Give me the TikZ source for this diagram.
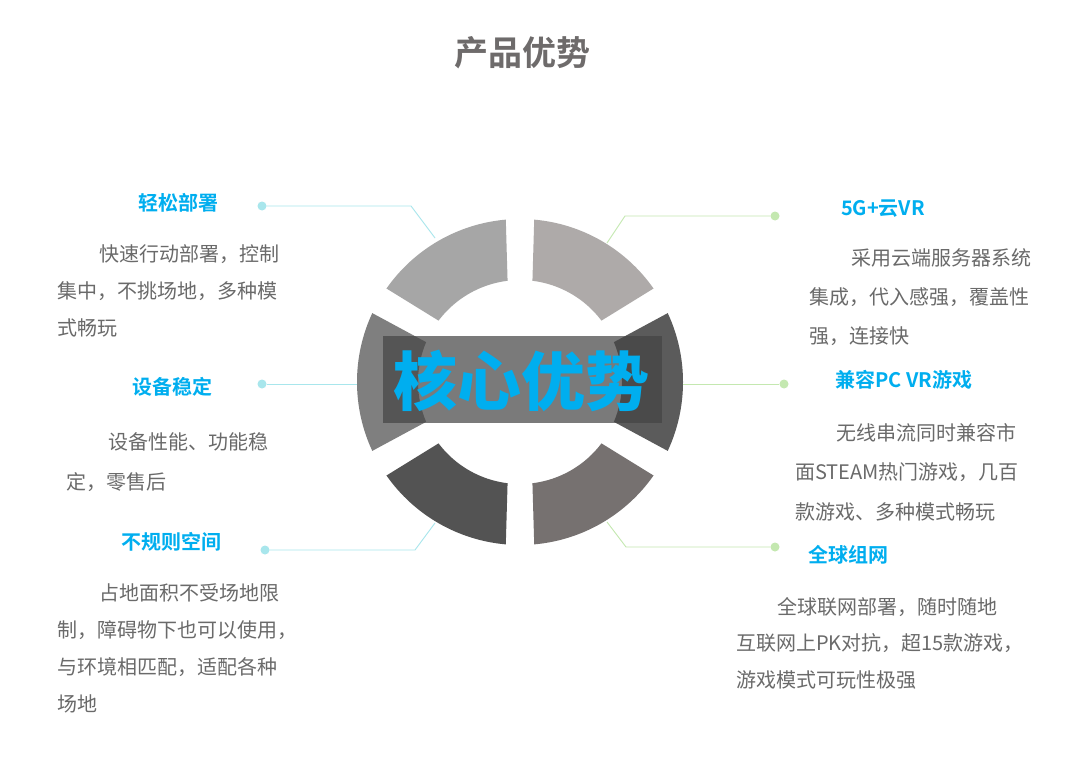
\documentclass[tikz,border=0pt]{standalone}
\usepackage{fontspec}
\setmainfont{Noto Sans CJK SC}[BoldFont={Noto Sans CJK SC Bold}]
\newfontfamily\heavycjk{Noto Sans CJK SC Black}
\usetikzlibrary{calc}
\definecolor{headblue}{HTML}{00AEEF}
\definecolor{bodygray}{HTML}{6A6A6A}
\definecolor{titlegray}{HTML}{6E6B6B}
\definecolor{linecyan}{HTML}{A8E6EC}
\definecolor{linegreen}{HTML}{C4E8B0}
\definecolor{segTL}{HTML}{A6A6A6}
\definecolor{segL}{HTML}{7F7F7F}
\definecolor{segBL}{HTML}{535353}
\definecolor{segBR}{HTML}{767170}
\definecolor{segR}{HTML}{5B5B5B}
\definecolor{segTR}{HTML}{AEAAA9}
\definecolor{boxgray}{HTML}{444444}

\begin{document}
\begin{tikzpicture}[x = 1pt, y = -1pt,
    head/.style = {text = headblue, inner sep = 0, font = \fontsize{20}{24}\selectfont\bfseries},
    body/.style = {text = bodygray, inner sep = 0, align = left, anchor = north west},
    dotL/.style = {circle, fill = linecyan, inner sep = 0, minimum size = 9pt},
    dotR/.style = {circle, fill = linegreen, inner sep = 0, minimum size = 9pt},
    linkL/.style = {draw = linecyan, line width = .9pt},
    linkR/.style = {draw = linegreen, line width = .9pt}]
    \fill[white] (0,0) rectangle (1075,757);
    \useasboundingbox (0,0) rectangle (1075,757);
    % title:
    \node[text = titlegray, font = \fontsize{34}{40}\selectfont\bfseries] (title) at (522,53) {产品优势};
    % connectors, behind the ring:
    \node[dotL] (d1) at (262,206) {};
    \node[dotL] (d2) at (262,384) {};
    \node[dotL] (d3) at (265,550) {};
    \node[dotR] (d4) at (775,216) {};
    \node[dotR] (d5) at (784,384) {};
    \node[dotR] (d6) at (775,547) {};
    \coordinate (k1) at (411,206); \coordinate (e1) at (435,238);
    \coordinate (e2) at (360,384);
    \coordinate (k3) at (415,550); \coordinate (e3) at (435,523);
    \coordinate (k4) at (625,216); \coordinate (e4) at (607,243);
    \coordinate (e5) at (680,384);
    \coordinate (k6) at (626,547); \coordinate (e6) at (607,522);
    \draw[linkL] (d1) -- (k1) -- (e1);
    \draw[linkL] (d2) -- (e2);
    \draw[linkL] (d3) -- (k3) -- (e3);
    \draw[linkR] (d4) -- (k4) -- (e4);
    \draw[linkR] (d5) -- (e5);
    \draw[linkR] (d6) -- (k6) -- (e6);
    % ring of six pieces:
    \coordinate (c) at (520,382);
    \foreach \a/\col in {90/segTL, 150/segL, 210/segBL, 270/segBR, 330/segR, 30/segTR}
      \fill[\col] ($(c)+(-\a-5:163)$) arc[start angle = -\a-5, end angle = -\a-55, radius = 163]
        -- ($(c)+(-\a-53:102)$) arc[start angle = -\a-53, end angle = -\a-7, radius = 102] -- cycle;
    % centre box:
    \fill[boxgray, fill opacity = .71] (383,336) rectangle (662,423);
    \node[text = headblue, font = \fontsize{64}{70}\selectfont\heavycjk] (core) at (521,381) {核心优势};
    % headings:
    \node[head] (h1) at (178,203) {轻松部署};
    \node[head] (h2) at (172,387) {设备稳定};
    \node[head] (h3) at (171,542) {不规则空间};
    \node[head] (h4) at (883,209) {5G+云VR};
    \node[head] (h5) at (904,380) {兼容PC VR游戏};
    \node[head] (h6) at (848,555) {全球组网};
    % texts:
    \node[body, font = \fontsize{20}{37}\selectfont] (t1) at (57,244)
      {\hspace*{2.1em}快速行动部署，控制\\集中，不挑场地，多种模\\式畅玩};
    \node[body, font = \fontsize{20}{40}\selectfont] (t2) at (66,432)
      {\hspace*{2.1em}设备性能、功能稳\\定，零售后};
    \node[body, font = \fontsize{20}{37}\selectfont] (t3) at (57,583)
      {\hspace*{2.1em}占地面积不受场地限\\制，障碍物下也可以使用，\\与环境相匹配，适配各种\\场地};
    \node[body, font = \fontsize{20}{39}\selectfont] (t4) at (809,248)
      {\hspace*{2.1em}采用云端服务器系统\\集成，代入感强，覆盖性\\强，连接快};
    \node[body, font = \fontsize{20}{39.5}\selectfont] (t5) at (795,423)
      {\hspace*{2.05em}无线串流同时兼容市\\面STEAM热门游戏，几百\\款游戏、多种模式畅玩};
    \node[body, font = \fontsize{20}{36.5}\selectfont] (t6) at (736,597)
      {\hspace*{2.05em}全球联网部署，随时随地\\互联网上PK对抗，超15款游戏，\\游戏模式可玩性极强};
  \end{tikzpicture}
\end{document}
